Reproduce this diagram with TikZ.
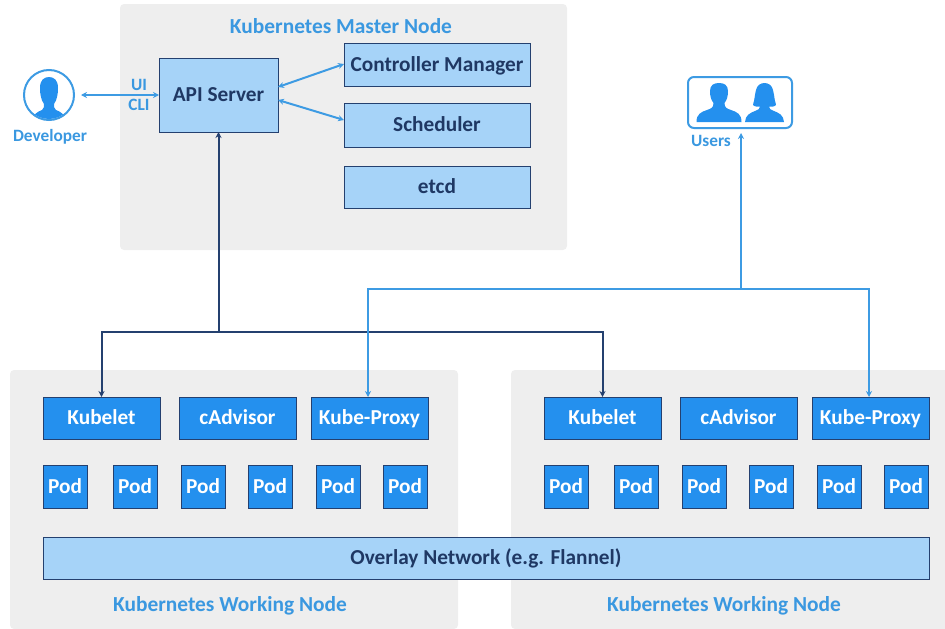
\documentclass[tikz,border=0pt]{standalone}
\usepackage{fontspec}
\setmainfont{Carlito}
\usetikzlibrary{arrows.meta}
\definecolor{panelc}{HTML}{EEEEEE}
\definecolor{lightc}{HTML}{A6D3F8}
\definecolor{navyc}{HTML}{24406F}
\definecolor{inkc}{HTML}{1F3864}
\definecolor{bluec}{HTML}{2490EE}
\definecolor{linec}{HTML}{3D9BE3}
\definecolor{labelc}{HTML}{3A98E0}
\tikzset{
  panelbox/.style={fill=panelc,rounded corners=4pt},
  lightbox/.style={fill=lightc,draw=navyc,line width=.9pt,text=inkc,font=\bfseries\fontsize{21.3}{24}\selectfont},
  darkbox/.style={fill=bluec,draw=navyc,line width=.9pt,text=white,font=\bfseries\fontsize{21.3}{24}\selectfont},
  title/.style={text=labelc,font=\bfseries\fontsize{21.4}{24}\selectfont,inner sep=0pt},
  small/.style={text=labelc,font=\bfseries\fontsize{17.3}{19}\selectfont,inner sep=0pt},
  navyline/.style={draw=navyc,line width=2pt,-{Stealth[length=6pt,width=6pt]}},
  blueline/.style={draw=linec,line width=2pt,-{Stealth[length=6pt,width=6pt]}},
  bothline/.style={draw=linec,line width=2pt,{Stealth[length=6pt,width=6pt]}-{Stealth[length=6pt,width=6pt]}},
}
\newcommand{\bx}[7]{%
  \pgfmathsetmacro{\cxv}{(#2+#4)/2}\pgfmathsetmacro{\cyv}{(#3+#5)/2}%
  \pgfmathsetmacro{\wv}{#4-#2}\pgfmathsetmacro{\hv}{#5-#3}%
  \node[#6,inner sep=0pt,outer sep=0pt,minimum width=\wv pt,minimum height=\hv pt] (#1) at (\cxv,\cyv) {\raisebox{-2.5pt}[13pt][4.5pt]{#7}};}
\newcommand{\malefig}[1]{%
  \fill[bluec,shift={(#1,0)}] (-22.5,122) .. controls (-22.5,114) and (-18,112) .. (-12,110)
   .. controls (-8,108.5) and (-5.5,108) .. (-5.5,103)
   .. controls (-8,100) and (-9,96) .. (-9,91)
   .. controls (-9,85) and (-5,83) .. (0,83)
   .. controls (5,83) and (9,85) .. (9,91)
   .. controls (9,96) and (8,100) .. (5.5,103)
   .. controls (5.5,108) and (8,108.5) .. (12,110)
   .. controls (18,112) and (22.5,114) .. (22.5,122) -- cycle;}
\begin{document}
\begin{tikzpicture}[x=1pt,y=-1pt]
\useasboundingbox (0,0) rectangle (945,629);
% panels
\bx{master}{120}{4}{567}{250}{panelbox}{}
\bx{workL}{10}{370}{458}{629}{panelbox}{}
\bx{workR}{511}{370}{950}{629}{panelbox}{}
\node[title] (masterT) at (341,26) {Kubernetes Master Node};
\node[title] (workLT) at (230,606) {Kubernetes Working Node};
\node[title] (workRT) at (724,606) {Kubernetes Working Node};
% master
\bx{api}{159}{58}{278}{132}{lightbox}{API Server}
\bx{ctrl}{344}{43}{530}{86}{lightbox}{Controller Manager}
\bx{sched}{344}{103}{530}{147}{lightbox}{Scheduler}
\bx{etcd}{344}{166}{530}{208}{lightbox}{etcd}
% left worker
\bx{kubeletL}{43}{397}{160}{439}{darkbox}{Kubelet}
\bx{cadvL}{179}{397}{296}{439}{darkbox}{cAdvisor}
\bx{proxyL}{311}{397}{428}{439}{darkbox}{Kube-Proxy}
\bx{podLa}{43}{465}{87}{508}{darkbox}{Pod}
\bx{podLb}{113}{465}{157}{508}{darkbox}{Pod}
\bx{podLc}{181}{465}{225}{508}{darkbox}{Pod}
\bx{podLd}{248}{465}{292}{508}{darkbox}{Pod}
\bx{podLe}{316}{465}{360}{508}{darkbox}{Pod}
\bx{podLf}{383}{465}{427}{508}{darkbox}{Pod}
% right worker
\bx{kubeletR}{544}{397}{661}{439}{darkbox}{Kubelet}
\bx{cadvR}{680}{397}{797}{439}{darkbox}{cAdvisor}
\bx{proxyR}{812}{397}{929}{439}{darkbox}{Kube-Proxy}
\bx{podRa}{544}{465}{588}{508}{darkbox}{Pod}
\bx{podRb}{614}{465}{658}{508}{darkbox}{Pod}
\bx{podRc}{682}{465}{726}{508}{darkbox}{Pod}
\bx{podRd}{749}{465}{793}{508}{darkbox}{Pod}
\bx{podRe}{817}{465}{861}{508}{darkbox}{Pod}
\bx{podRf}{884}{465}{928}{508}{darkbox}{Pod}
\bx{overlay}{43}{537}{929}{579}{lightbox}{Overlay Network (e.g. Flannel)}
% developer
\node[circle,draw=linec,line width=2pt,minimum size=50pt,inner sep=0pt,outer sep=0pt] (dev) at (49,95) {};
\begin{scope}
\clip (49,95) circle (24pt);
\fill[bluec] (32,122) .. controls (33,114) and (37,112) .. (42,110)
  .. controls (44,109) and (44,106) .. (44,104)
  .. controls (41,100) and (40,94) .. (40,88)
  .. controls (40,80) and (44,77) .. (49,77)
  .. controls (54,77) and (58,80) .. (58,88)
  .. controls (58,94) and (57,100) .. (54,104)
  .. controls (54,106) and (54,109) .. (56,110)
  .. controls (61,112) and (65,114) .. (66,122) -- cycle;
\end{scope}
\node[small] (devT) at (50,136.5) {Developer};
\node[small] (uiT) at (139,85) {UI};
\node[small] (cliT) at (139,105) {CLI};
% users
\bx{users}{688}{77}{792}{128}{draw=linec,line width=2pt,rounded corners=6pt}{}
\malefig{719}
\fill[bluec] (745,122) .. controls (745.5,115) and (750,113) .. (755,111)
  .. controls (758,110) and (760,109) .. (760,106.5)
  -- (756,106.5) .. controls (752,106) and (753,104) .. (754,101)
  .. controls (755,96) and (755,93) .. (756,90)
  .. controls (757,85) and (761,83) .. (764.5,83)
  .. controls (768,83) and (772,85) .. (773,90)
  .. controls (774,93) and (774,96) .. (775,101)
  .. controls (776,104) and (777,106) .. (773,106.5)
  -- (769,106.5) .. controls (769,109) and (771,110) .. (774,111)
  .. controls (779,113) and (783.5,115) .. (784,122) -- cycle;
\node[small] (usersT) at (711,140.5) {Users};
% connectors
\coordinate (devEnd) at (81,95);
\draw[bothline] (devEnd) -- (api.west |- devEnd);
\coordinate (ctrlIn) at (344,64);
\coordinate (apiA) at (278,87);
\coordinate (schedIn) at (344,120);
\coordinate (apiB) at (278,100);
\draw[bothline] (ctrlIn) -- (apiA);
\draw[bothline] (schedIn) -- (apiB);
% navy bus
\coordinate (navyJ) at (api.south |- 0,332);
\draw[navyline] (navyJ) -- (api.south);
\draw[navyline] (navyJ) -| (kubeletL.north);
\draw[navyline] (navyJ) -| (kubeletR.north);
% blue bus
\coordinate (usersEnd) at ([xshift=1pt]users.south |- 0,133);
\coordinate (blueJ) at ([xshift=1pt]users.south |- 0,289);
\coordinate (proxyLIn) at ([xshift=-1.5pt]proxyL.north);
\coordinate (proxyRIn) at ([xshift=-1.5pt]proxyR.north);
\draw[blueline] (blueJ) -- (usersEnd);
\draw[blueline] (blueJ) -| (proxyLIn);
\draw[blueline] (blueJ) -| (proxyRIn);
\end{tikzpicture}
\end{document}
